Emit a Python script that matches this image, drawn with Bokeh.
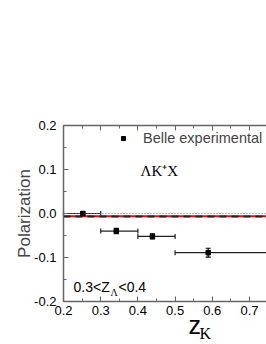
from bokeh.plotting import figure
from bokeh.models import (ColumnDataSource, Whisker, TeeHead, Label, Legend, LegendItem,
                          LinearAxis, SingleIntervalTicker, Range1d, PrintfTickFormatter)
from bokeh.embed import file_html
from bokeh.resources import INLINE

# ---- data ----
z_k = [0.252, 0.342, 0.439, 0.589]
polarization = [0.000, -0.040, -0.052, -0.089]
pol_err = [0.004, 0.006, 0.006, 0.010]
z_lo = [0.2, 0.3, 0.4, 0.5]
z_hi = [0.3, 0.4, 0.5, 0.75]

theory_z = [0.2, 0.75]
theory_red = [-0.006, -0.006]
theory_dash = [-0.007, -0.007]
zero_line = [0.0, 0.0]

x_bounds = (0.2, 0.75)
y_bounds = (-0.2, 0.2)
x_ticks_interval = 0.1
y_ticks_interval = 0.1

src = ColumnDataSource(dict(
    z=z_k, pol=polarization,
    pol_lo=[p - e for p, e in zip(polarization, pol_err)],
    pol_hi=[p + e for p, e in zip(polarization, pol_err)],
    z_lo=z_lo, z_hi=z_hi,
))

FONT = "Liberation Sans"
SERIF = "Liberation Serif"
AXC = "#666666"

W, H = 266, 344
XPX = 372.0   # px per unit x
YPX = 440.0   # px per unit y
def px2x(px):
    return 0.2 + (px - 63) / XPX

def py2y(py):
    return 0.2 - (py - 125) / YPX

p = figure(width=W, height=H, output_backend="svg", toolbar_location=None,
           x_range=Range1d(px2x(0), px2x(W)), y_range=Range1d(py2y(H), py2y(0)),
           min_border=0, x_axis_location=None, y_axis_location=None)
p.outline_line_color = None
p.grid.visible = False
p.background_fill_color = "white"
p.border_fill_color = "white"

def style(ax, labels=True):
    ax.axis_line_color = AXC
    ax.axis_line_width = 1.5
    ax.major_tick_line_color = AXC
    ax.minor_tick_line_color = AXC
    ax.major_tick_in = 5
    ax.major_tick_out = 0
    ax.minor_tick_in = 3
    ax.minor_tick_out = 0
    ax.major_label_text_font = FONT
    ax.major_label_text_font_size = "13px"
    ax.major_label_text_color = "black" if labels else None
    ax.formatter = PrintfTickFormatter(format="%.1f")

xb = LinearAxis(ticker=SingleIntervalTicker(interval=x_ticks_interval, num_minor_ticks=2),
                bounds=x_bounds, fixed_location=y_bounds[0])
style(xb)
xb.major_label_standoff = 4
p.add_layout(xb, "below")

xt = LinearAxis(ticker=SingleIntervalTicker(interval=x_ticks_interval, num_minor_ticks=2),
                bounds=x_bounds, fixed_location=y_bounds[1])
style(xt, labels=False)
p.add_layout(xt, "above")

yl = LinearAxis(ticker=SingleIntervalTicker(interval=y_ticks_interval, num_minor_ticks=2),
                bounds=y_bounds, fixed_location=x_bounds[0], axis_label="Polarization")
style(yl)
yl.major_label_standoff = 7
yl.axis_label_text_font = FONT
yl.axis_label_text_font_size = "17px"
yl.axis_label_text_font_style = "normal"
yl.axis_label_standoff = -3
p.add_layout(yl, "left")

# theory curves
p.line(theory_z, zero_line, line_color="#777777", line_width=1, line_dash="1 2")
p.line(theory_z, theory_red, line_color="red", line_width=2)
p.line(theory_z, theory_dash, line_color="#222222", line_width=2, line_dash="7 5")

# error bars
p.add_layout(Whisker(source=src, base="pol", lower="z_lo", upper="z_hi", dimension="width",
                     line_color="#222222", line_width=1.2,
                     lower_head=TeeHead(size=5, line_color="#222222", line_width=1.2),
                     upper_head=TeeHead(size=5, line_color="#222222", line_width=1.2)))
p.add_layout(Whisker(source=src, base="z", lower="pol_lo", upper="pol_hi", dimension="height",
                     line_color="black", line_width=1.2,
                     lower_head=TeeHead(size=5, line_color="black", line_width=1.2),
                     upper_head=TeeHead(size=5, line_color="black", line_width=1.2)))
pts = p.scatter("z", "pol", source=src, marker="square", size=4.5, color="black")

# legend: glyph centre at (123,137), text from x 143
legend = Legend(items=[LegendItem(label="Belle experimental", renderers=[pts])],
                location=(118, 198), padding=0, margin=0, spacing=0,
                glyph_width=10, glyph_height=10, label_height=10, label_standoff=15,
                border_line_color=None, background_fill_alpha=0,
                label_text_font=FONT, label_text_font_size="14.5px")
p.add_layout(legend, "center")

def lab(text, px, py, size, font=FONT):
    p.add_layout(Label(x=px2x(px), y=py2y(py), text=text, text_font=font,
                       text_font_size=size, text_baseline="middle", text_color="black"))

lab("\u039bK\u207aX", 140, 170, "15px", SERIF)
lab("0.3<Z", 73, 286, "14px")
lab("\u039b", 110, 292, "10px", SERIF)
lab("<0.4", 118, 286, "14px")
lab("z", 188, 324, "25px")
lab("K", 199, 333, "16px", SERIF)

open("out.html", "w").write(file_html(p, INLINE))
